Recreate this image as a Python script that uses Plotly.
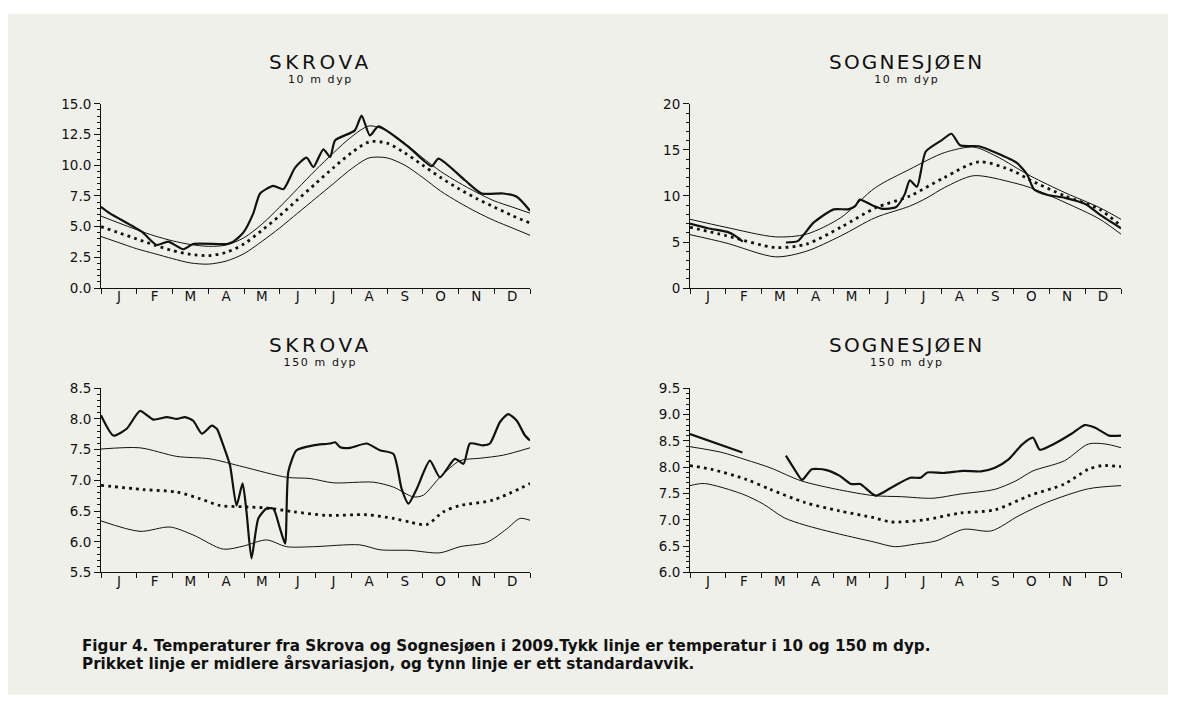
import plotly.graph_objects as go

W, H = 1177, 707

month_labels = ["J", "F", "M", "A", "M", "J", "J", "A", "S", "O", "N", "D"]

# ---------------- SKROVA 10 m ----------------
sk10_obs_x = [0, 0.25, 1.14, 1.56, 1.88, 2.30, 2.58, 3.52, 3.70, 3.98, 4.26, 4.45, 4.82, 5.10, 5.43, 5.75, 5.94,
              6.22, 6.41, 6.55, 7.10, 7.29, 7.52, 7.76, 8.60, 9.25, 9.44, 10.18, 10.65, 11.25, 11.63, 12.0]
sk10_obs_y = [6.62, 6.08, 4.59, 3.51, 3.78, 3.16, 3.59, 3.59, 3.78, 4.51, 6.08, 7.70, 8.32, 8.05, 9.81, 10.62, 9.86,
              11.30, 10.68, 12.03, 12.84, 14.05, 12.43, 13.16, 11.49, 9.92, 10.54, 8.78, 7.70, 7.70, 7.43, 6.30]
sk10_x = [0, 0.5, 1, 1.5, 2, 2.5, 3, 3.5, 4, 4.5, 5, 5.5, 6, 6.5, 7, 7.5, 8, 8.5, 9, 9.5, 10, 10.5, 11, 11.5, 12]
sk10_hi = [5.86, 5.3, 4.75, 4.25, 3.85, 3.55, 3.4, 3.5, 4.1, 5.2, 6.6, 8.1, 9.6, 11.0, 12.3, 13.2, 12.8, 11.8,
           10.6, 9.5, 8.6, 7.8, 7.1, 6.6, 6.1]
sk10_mean = [5.0, 4.5, 4.0, 3.5, 3.05, 2.75, 2.65, 2.9, 3.6, 4.7, 5.9, 7.2, 8.5, 9.8, 11.0, 11.9, 11.8, 11.0,
             10.0, 9.0, 8.1, 7.3, 6.6, 5.9, 5.3]
sk10_lo = [4.2, 3.7, 3.2, 2.8, 2.4, 2.05, 1.95, 2.2, 2.8, 3.8, 4.9, 6.1, 7.3, 8.5, 9.7, 10.6, 10.6, 10.0,
           9.0, 7.9, 7.0, 6.2, 5.5, 4.9, 4.3]

# ---------------- SOGNESJØEN 10 m ----------------
so10_obs_x = [0, 0.5, 1.04, 1.25, 1.47, None, 2.67, 3.0, 3.44, 4.0, 4.4, 4.6, 4.73, 5.07, 5.36, 5.74, 5.98, 6.12,
              6.32, 6.56, 6.99, 7.28, 7.52, 8.04, 8.52, 9.1, 9.39, 9.58, 9.96, 10.44, 11.02, 11.4, 12.0]
so10_obs_y = [7.0, 6.5, 6.1, 5.7, 5.05, None, 4.95, 5.1, 7.1, 8.55, 8.55, 8.9, 9.6, 9.0, 8.6, 8.8, 10.2, 11.7,
              11.0, 14.8, 16.0, 16.75, 15.5, 15.4, 14.7, 13.6, 12.3, 10.7, 10.1, 9.8, 9.1, 8.0, 6.5]
so10_hi_x = [0, 1.0, 2.38, 3.24, 4.2, 5.16, 6.12, 7.08, 7.9, 8.52, 9.48, 10.44, 11.4, 12.0]
so10_hi_y = [7.47, 6.6, 5.56, 5.85, 7.65, 10.9, 12.9, 14.7, 15.3, 14.33, 12.17, 10.36, 8.74, 7.47]
so10_mean_x = [0, 1.0, 2.38, 3.24, 4.2, 5.16, 6.12, 7.08, 8.04, 9.0, 9.48, 10.44, 11.4, 12.0]
so10_mean_y = [6.6, 5.7, 4.4, 4.77, 6.6, 8.7, 10.0, 12.0, 13.7, 12.7, 11.7, 10.0, 8.55, 6.75]
so10_lo_x = [0, 1.0, 2.38, 3.24, 4.2, 5.16, 6.12, 6.6, 7.08, 7.9, 9.0, 9.48, 10.44, 11.4, 12.0]
so10_lo_y = [5.8, 4.9, 3.39, 4.0, 5.67, 7.65, 8.9, 9.8, 10.9, 12.2, 11.44, 10.9, 9.3, 7.5, 5.85]

# ---------------- SKROVA 150 m ----------------
sk150_obs_x = [0, 0.345, 0.718, 1.09, 1.46, 1.84, 2.12, 2.35, 2.58, 2.82, 3.10, 3.24, 3.42, 3.61, 3.79, 3.96,
               4.07, 4.21, 4.40, 4.63, 4.82, 5.01, 5.15, 5.24, 5.47, 5.94, 6.41, 6.55, 6.69, 6.97, 7.43, 7.80,
               8.18, 8.41, 8.60, 8.83, 9.20, 9.48, 9.90, 10.14, 10.32, 10.69, 10.88, 11.16, 11.39, 11.63, 11.86, 12.0]
sk150_obs_y = [8.06, 7.73, 7.84, 8.13, 7.99, 8.03, 8.00, 8.03, 7.97, 7.76, 7.89, 7.84, 7.57, 7.24, 6.59, 6.95,
               6.49, 5.73, 6.38, 6.54, 6.54, 6.21, 5.97, 7.14, 7.49, 7.57, 7.60, 7.62, 7.54, 7.53, 7.60, 7.49,
               7.43, 6.86, 6.62, 6.86, 7.32, 7.05, 7.35, 7.27, 7.60, 7.57, 7.60, 7.95, 8.08, 7.97, 7.73, 7.65]
sk150_hi_x = [0, 1.09, 2.12, 3.05, 3.98, 5.19, 5.85, 6.5, 7.62, 8.18, 8.74, 9.02, 9.48, 10.04, 10.6, 11.25, 12.0]
sk150_hi_y = [7.51, 7.53, 7.39, 7.35, 7.22, 7.05, 7.03, 6.96, 6.97, 6.89, 6.73, 6.76, 7.05, 7.32, 7.36, 7.41, 7.53]
sk150_mean_x = [0, 1.18, 2.12, 2.77, 3.33, 3.98, 4.63, 5.38, 6.31, 7.43, 8.18, 8.64, 9.11, 9.58, 10.04, 10.97, 12.0]
sk150_mean_y = [6.92, 6.85, 6.81, 6.70, 6.59, 6.57, 6.55, 6.49, 6.43, 6.44, 6.38, 6.32, 6.28, 6.49, 6.59, 6.68, 6.95]
sk150_lo_x = [0, 1.09, 1.93, 2.58, 3.42, 3.98, 4.63, 5.19, 5.94, 7.24, 7.80, 8.64, 9.48, 10.04, 10.79, 11.35,
              11.72, 12.0]
sk150_lo_y = [6.34, 6.17, 6.24, 6.11, 5.88, 5.93, 6.03, 5.92, 5.92, 5.95, 5.87, 5.86, 5.82, 5.92, 5.99, 6.21,
              6.38, 6.35]

# ---------------- SOGNESJØEN 150 m ----------------
so150_obs_x = [0, 1.46, None, 2.67, 2.91, 3.12, 3.39, 3.77, 4.16, 4.49, 4.74, 5.17, 5.60, 6.13, 6.42, 6.61, 7.05,
               7.62, 8.10, 8.49, 8.87, 9.26, 9.55, 9.74, 10.13, 10.61, 10.99, 11.28, 11.67, 12.0]
so150_obs_y = [8.63, 8.28, None, 8.22, 7.96, 7.76, 7.96, 7.95, 7.84, 7.68, 7.68, 7.46, 7.61, 7.80, 7.80, 7.90,
               7.89, 7.93, 7.92, 7.99, 8.15, 8.44, 8.56, 8.33, 8.44, 8.63, 8.80, 8.75, 8.60, 8.60]
so150_hi_x = [0, 0.89, 1.56, 2.23, 3.1, 4.16, 5.12, 5.89, 6.76, 7.52, 8.49, 9.07, 9.55, 10.42, 11.09, 11.57, 12.0]
so150_hi_y = [8.39, 8.28, 8.14, 7.99, 7.74, 7.57, 7.46, 7.44, 7.41, 7.49, 7.58, 7.74, 7.93, 8.12, 8.44, 8.44, 8.37]
so150_mean_x = [0, 0.6, 1.56, 2.23, 3.2, 4.16, 5.12, 5.6, 6.54, 7.52, 8.49, 9.45, 10.42, 11.09, 11.48, 12.0]
so150_mean_y = [8.03, 7.96, 7.77, 7.58, 7.33, 7.17, 7.04, 6.96, 7.0, 7.13, 7.19, 7.46, 7.68, 7.96, 8.03, 8.01]
so150_lo_x = [0, 0.4, 1.46, 2.04, 2.62, 3.2, 4.16, 5.12, 5.7, 6.28, 6.85, 7.62, 8.39, 9.16, 9.93, 11.09, 12.0]
so150_lo_y = [7.65, 7.69, 7.49, 7.30, 7.04, 6.90, 6.73, 6.58, 6.49, 6.54, 6.60, 6.82, 6.79, 7.08, 7.33, 7.59, 7.65]

titles = [("SKROVA", "10 m dyp"), ("SOGNESJØEN", "10 m dyp"), ("SKROVA", "150 m dyp"), ("SOGNESJØEN", "150 m dyp")]
caption_1 = "Figur 4. Temperaturer fra Skrova og Sognesjøen i 2009.Tykk linje er temperatur i 10 og 150 m dyp."
caption_2 = "Prikket linje er midlere årsvariasjon, og tynn linje er ett standardavvik."


def py(y):
    # page pixel (as photographed) -> figure pixel
    return (y - 8.3) / 0.976


# ---------------- layout geometry (pixels) ----------------
cols_px = [(101, 530), (690, 1121)]
rows_px = [(py(104), py(288)), (py(388), py(572))]
title_cx = [320, 906]
title_cy = [61, 350.5]
title_spacing = [3.6, 2.2]
yranges = [[0, 15], [0, 20], [5.5, 8.5], [6, 9.5]]
ydticks = [2.5, 5, 0.5, 0.5]
yminor = [0.5, 1, 0.1, 0.1]
yformats = [".1f", "d", ".1f", ".1f"]

panels = [
    (sk10_obs_x, sk10_obs_y, sk10_x, sk10_hi, sk10_x, sk10_mean, sk10_x, sk10_lo),
    (so10_obs_x, so10_obs_y, so10_hi_x, so10_hi_y, so10_mean_x, so10_mean_y, so10_lo_x, so10_lo_y),
    (sk150_obs_x, sk150_obs_y, sk150_hi_x, sk150_hi_y, sk150_mean_x, sk150_mean_y, sk150_lo_x, sk150_lo_y),
    (so150_obs_x, so150_obs_y, so150_hi_x, so150_hi_y, so150_mean_x, so150_mean_y, so150_lo_x, so150_lo_y),
]

INK = "#111111"
FONT = "'DejaVu Sans', Lato, sans-serif"

fig = go.Figure()
layout = dict(
    width=W, height=H, margin=dict(l=0, r=0, t=0, b=0),
    paper_bgcolor="white", plot_bgcolor="white", showlegend=False,
    font=dict(family=FONT, color=INK),
    shapes=[dict(type="rect", xref="paper", yref="paper", x0=8 / W, x1=1168 / W,
                 y0=max(0.0, 1 - py(694) / H), y1=1 - py(14) / H,
                 fillcolor="#f0f0eb", line=dict(width=0), layer="below")],
    annotations=[],
)

for i, p in enumerate(panels):
    r, c = divmod(i, 2)
    ax = "" if i == 0 else str(i + 1)
    xa, ya = "x" + ax, "y" + ax
    obs_x, obs_y, hi_x, hi_y, mn_x, mn_y, lo_x, lo_y = p
    fig.add_trace(go.Scatter(x=hi_x, y=hi_y, xaxis=xa, yaxis=ya, mode="lines",
                             line=dict(color=INK, width=1, shape="spline", smoothing=0.8)))
    fig.add_trace(go.Scatter(x=lo_x, y=lo_y, xaxis=xa, yaxis=ya, mode="lines",
                             line=dict(color=INK, width=1, shape="spline", smoothing=0.8)))
    fig.add_trace(go.Scatter(x=mn_x, y=mn_y, xaxis=xa, yaxis=ya, mode="lines",
                             line=dict(color=INK, width=2.8, dash="2.8px,4.2px", shape="spline", smoothing=0.8)))
    fig.add_trace(go.Scatter(x=obs_x, y=obs_y, xaxis=xa, yaxis=ya, mode="lines", connectgaps=False,
                             line=dict(color=INK, width=2.2, shape="spline", smoothing=0.6)))

    x0, x1 = cols_px[c]
    y0, y1 = rows_px[r]
    layout["xaxis" + ax] = dict(
        domain=[x0 / W, x1 / W], range=[0, 12], anchor=ya,
        tickmode="array", tickvals=[m + 0.5 for m in range(12)], ticktext=month_labels,
        ticks="", ticklabelstandoff=-4, tickfont=dict(size=13.5, color=INK, family=FONT),
        showline=True, linecolor=INK, linewidth=1, showgrid=False, zeroline=False, fixedrange=True,
        minor=dict(tickmode="array", tickvals=list(range(13)), ticks="outside", ticklen=5, tickwidth=1,
                   tickcolor=INK, showgrid=False),
    )
    layout["yaxis" + ax] = dict(
        domain=[1 - y1 / H, 1 - y0 / H], range=yranges[i], anchor=xa,
        tickmode="linear", tick0=yranges[i][0], dtick=ydticks[i], tickformat=yformats[i],
        ticks="outside", ticklen=6, tickwidth=1, tickcolor=INK,
        tickfont=dict(size=13.5, color=INK, family=FONT),
        showline=True, linecolor=INK, linewidth=1, showgrid=False, zeroline=False, fixedrange=True,
        minor=dict(dtick=yminor[i], tick0=yranges[i][0], ticks="outside", ticklen=3, tickwidth=1,
                   tickcolor=INK, showgrid=False),
    )
    t1, t2 = titles[i]
    layout["annotations"].append(dict(
        x=title_cx[c] / W, y=1 - title_cy[r] / H, xref="paper", yref="paper", showarrow=False,
        xanchor="center", yanchor="middle", align="center",
        text=('<span style="font-size:20px;letter-spacing:%spx">' % title_spacing[c]) + t1 + '</span><br>'
             '<span style="font-size:11px;letter-spacing:1.6px">' + t2 + '</span>',
        font=dict(size=11, color=INK, family=FONT)))

layout["annotations"].append(dict(
    x=80 / W, y=1 - py(654) / H, xref="paper", yref="paper", showarrow=False, xanchor="left", yanchor="middle",
    align="left",
    text=('<span style="font-size:15.2px"><b>' + caption_1 + '</b></span><br>'
          '<span style="font-size:15.2px"><b>' + caption_2 + '</b></span>'),
    font=dict(size=14, color=INK, family=FONT)))

fig.update_layout(**layout)
fig.write_html(
    "out.html",
    config={"displayModeBar": False, "staticPlot": True},
    post_script=("document.documentElement.style.margin='0px';document.body.style.margin='0px';"
                 "var gd=document.getElementById('{plot_id}');gd.style.position='fixed';"
                 "gd.style.top='0px';gd.style.left='0px';"),
)
